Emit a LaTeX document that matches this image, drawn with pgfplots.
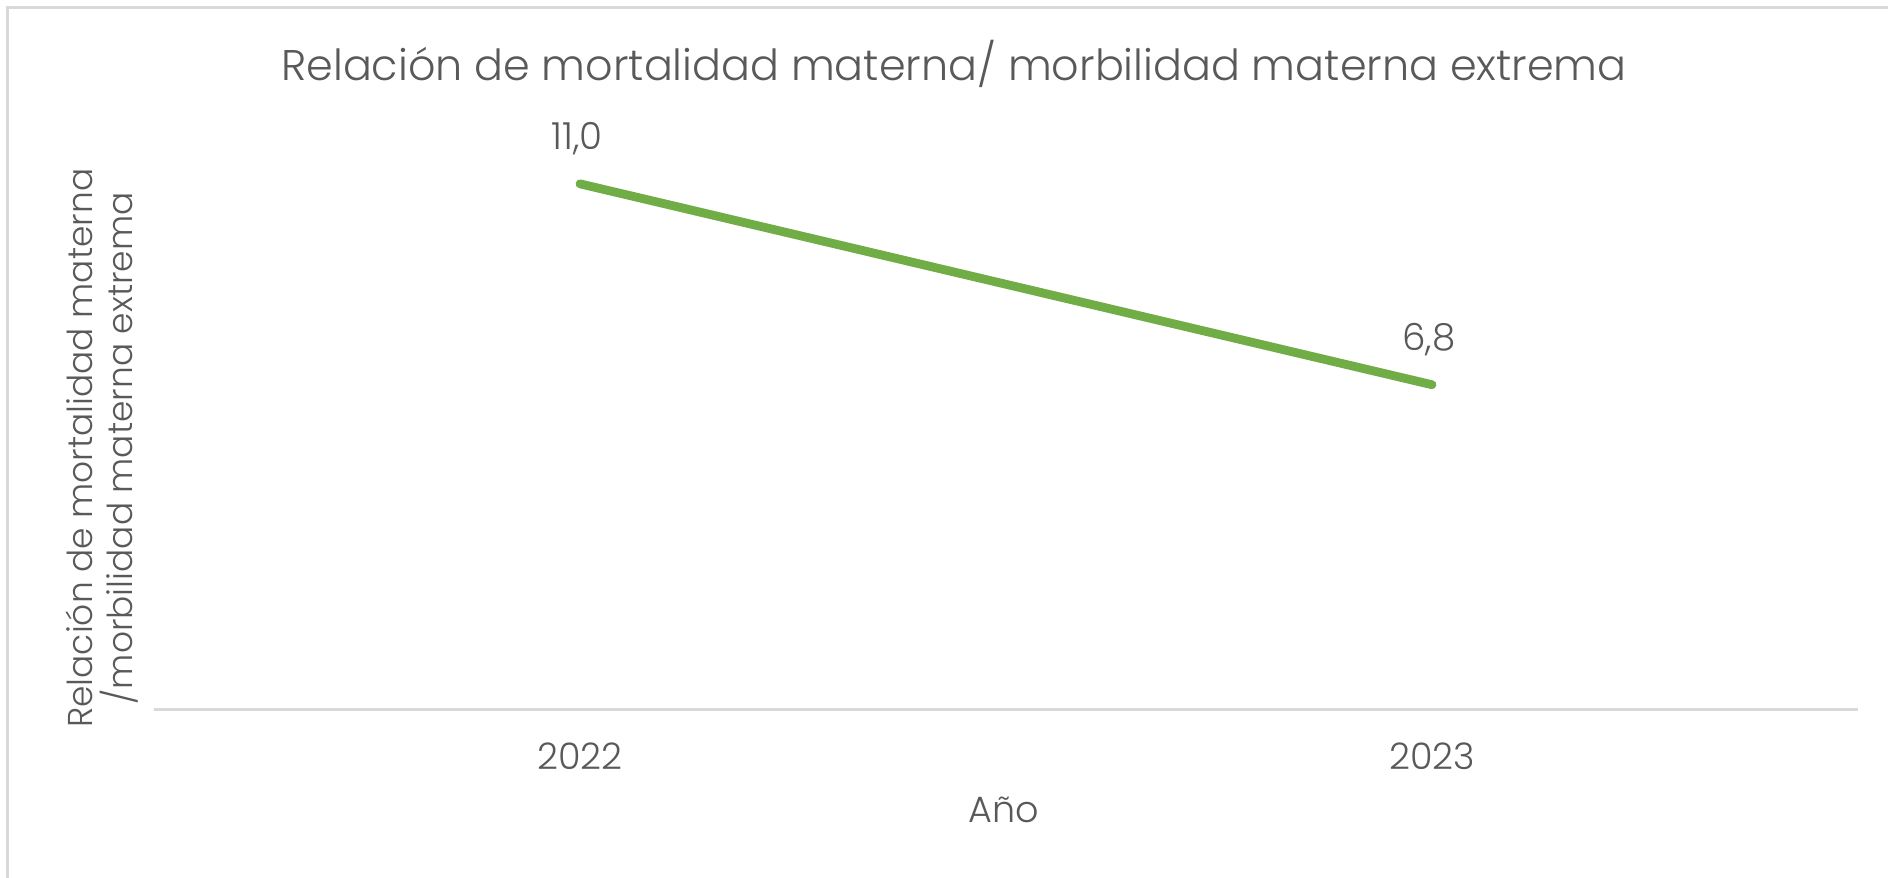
\documentclass[border=0pt]{standalone}
\usepackage{fontspec}
\setmainfont{Poppins}[UprightFont={* Light}]
\usepackage{pgfplots}
\pgfplotsset{compat=1.18}
\definecolor{txt}{HTML}{595959}
\definecolor{axln}{HTML}{D9D9D9}
\definecolor{ser}{HTML}{70AD47}
\begin{document}
\begin{tikzpicture}
\useasboundingbox (0,0) rectangle (18.88,8.78);
\draw[axln, line width=0.3mm] (0.07,0) -- (0.07,8.70) -- (18.88,8.70);
\begin{axis}[
  at={(1.54cm,1.68cm)}, anchor=south west,
  width=17.04cm, height=5.74cm, scale only axis,
  xmin=-0.5, xmax=1.5, ymin=0, ymax=12,
  axis x line=bottom, axis y line=none,
  x axis line style={-, axln, line width=0.3mm},
  xtick={0,1}, xticklabels={2022,2023},
  ytick=\empty,
  major tick length=0pt,
  /pgf/number format/assume math mode=true,
  tick label style={font=\fontsize{10.4}{12}\selectfont, text=txt},
  xticklabel style={anchor=center, yshift=-4.6mm},
  title={Relación de mortalidad materna/ morbilidad materna extrema},
  title style={at={(rel axis cs:0.4695,1.088)}, anchor=center, font=\fontsize{12.2}{15}\selectfont, text=txt},
  xlabel={Año},
  xlabel style={at={(rel axis cs:0.4988,-0.174)}, anchor=center, font=\fontsize{10.4}{12}\selectfont, text=txt},
  nodes near coords={\pgfmathprintnumber[fixed, fixed zerofill, precision=1, use comma, assume math mode=true]{\pgfplotspointmeta}},
  nodes near coords style={anchor=center, yshift=4.5mm, xshift=-0.3mm, font=\fontsize{10.6}{12}\selectfont, text=txt},
  clip=false,
]
\addplot[ser, line width=2.5pt, line cap=round, mark=none] coordinates {(0,11.0) (1,6.8)};
\node[rotate=90, align=center, font=\fontsize{9.8}{11.4}\selectfont, text=txt] at (rel axis cs:-0.0305,0.456)
  {Relación de mortalidad materna\\/morbilidad materna extrema};
\end{axis}
\end{tikzpicture}
\end{document}
